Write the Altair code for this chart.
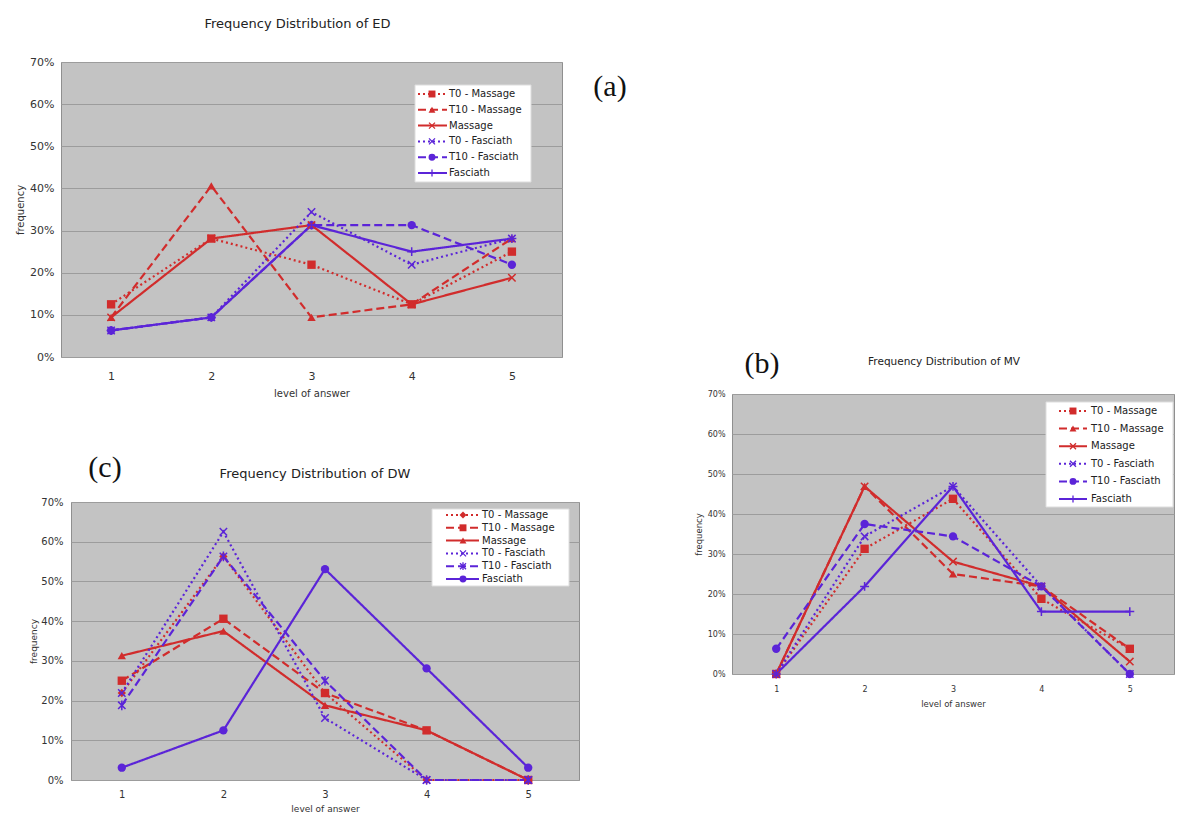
import altair as alt
import pandas as pd

# ---------------- data (percent) ----------------
levels = [1, 2, 3, 4, 5]
series_names = ["T0 - Massage", "T10 - Massage", "Massage",
                "T0 - Fasciath", "T10 - Fasciath", "Fasciath"]
y_ticks = [0, 0.1, 0.2, 0.3, 0.4, 0.5, 0.6, 0.7]

# (a) Frequency Distribution of ED
ed_t0_massage = [12.5, 28.1, 21.9, 12.5, 25.0]
ed_t10_massage = [9.4, 40.6, 9.4, 12.5, 28.1]
ed_massage = [9.4, 28.1, 31.3, 12.5, 18.8]
ed_t0_fasciath = [6.3, 9.4, 34.4, 21.9, 28.1]
ed_t10_fasciath = [6.3, 9.4, 31.3, 31.3, 21.9]
ed_fasciath = [6.3, 9.4, 31.3, 25.0, 28.1]

# (b) Frequency Distribution of MV
mv_t0_massage = [0.0, 31.3, 43.8, 18.8, 6.3]
mv_t10_massage = [0.0, 46.9, 25.0, 21.9, 6.3]
mv_massage = [0.0, 46.9, 28.1, 21.9, 3.1]
mv_t0_fasciath = [0.0, 34.4, 46.9, 21.9, 0.0]
mv_t10_fasciath = [6.3, 37.5, 34.4, 21.9, 0.0]
mv_fasciath = [0.0, 21.9, 46.9, 15.6, 15.6]

# (c) Frequency Distribution of DW
dw_t0_massage = [21.9, 56.3, 21.9, 0.0, 0.0]
dw_t10_massage = [25.0, 40.6, 21.9, 12.5, 0.0]
dw_massage = [31.3, 37.5, 18.8, 12.5, 0.0]
dw_t0_fasciath = [21.9, 62.5, 15.6, 0.0, 0.0]
dw_t10_fasciath = [18.8, 56.3, 25.0, 0.0, 0.0]
dw_fasciath = [3.1, 12.5, 53.1, 28.1, 3.1]

# ---------------- styles ----------------
FONT = "DejaVu Sans"
RED = "#d12c2c"
PURPLE = "#5b24d8"
BG = "#c3c3c3"
GRID = "#9c9c9c"
BORDER = "#8f8f8f"
TXT = "#333333"

X_PATH = "M-1,-1L1,1M-1,1L1,-1"
PLUS_PATH = "M0,-1.2L0,1.2M-1.2,0L1.2,0"
STAR_PATH = "M-1,-1L1,1M-1,1L1,-1M0,-1.3L0,1.3"

colors = [RED, RED, RED, PURPLE, PURPLE, PURPLE]
dashes = [[2, 3], [8, 4], [1, 0], [2, 3], [8, 4], [1, 0]]

shapes_ab = ["square", "triangle-up", X_PATH, X_PATH, "circle", PLUS_PATH]
filled_ab = ["T0 - Massage", "T10 - Massage", "T10 - Fasciath"]
shapes_c = ["diamond", "square", "triangle-up", X_PATH, STAR_PATH, "circle"]
filled_c = ["T0 - Massage", "T10 - Massage", "Massage", "Fasciath"]


def make_df(lists):
    rows = []
    for name, vals in zip(series_names, lists):
        for lv, v in zip(levels, vals):
            rows.append({"series": name, "level": lv, "value": v / 100.0})
    return pd.DataFrame(rows)


def panel(lists, shapes, filled, width, height, title, tsize, tdx, toffset,
          lab_size, ttl_size, xlab_pad, xttl_pad, ylab_pad, yttl_pad,
          box, row_y0, row_dy, line_x, mark_x, text_x, tag=None):
    df = make_df(lists)
    color_enc = alt.Color("series:N", scale=alt.Scale(domain=series_names, range=colors), legend=None)
    dash_enc = alt.StrokeDash("series:N", scale=alt.Scale(domain=series_names, range=dashes), legend=None)
    shape_enc = alt.Shape("series:N", scale=alt.Scale(domain=series_names, range=shapes), legend=None)
    open_names = [n for n in series_names if n not in filled]

    xs = alt.Scale(domain=[0.5, 5.5])
    x_enc = alt.X("level:Q", scale=xs,
                  axis=alt.Axis(values=levels, format="d", title="level of answer",
                                ticks=False, tickSize=0, domain=False, grid=False,
                                labelFontSize=lab_size, titleFontSize=ttl_size,
                                labelFont=FONT, titleFont=FONT, labelColor=TXT, titleColor=TXT,
                                titleFontWeight="normal", labelPadding=xlab_pad,
                                titlePadding=xttl_pad))
    y_enc = alt.Y("value:Q", scale=alt.Scale(domain=[0, 0.7]),
                  axis=alt.Axis(values=y_ticks, format=".0%", title="frequency",
                                ticks=False, tickSize=0, domain=False, grid=True,
                                gridColor=GRID, gridWidth=1,
                                labelFontSize=lab_size, titleFontSize=ttl_size,
                                labelFont=FONT, titleFont=FONT, labelColor=TXT, titleColor=TXT,
                                titleFontWeight="normal", labelPadding=ylab_pad,
                                titlePadding=yttl_pad))

    base = alt.Chart(df)
    lines = base.mark_line(strokeWidth=2.2).encode(x=x_enc, y=y_enc, color=color_enc,
                                                    strokeDash=dash_enc)
    pts_f = base.transform_filter(alt.FieldOneOfPredicate(field="series", oneOf=filled)).mark_point(
        filled=True, opacity=1, size=70).encode(x=x_enc, y=y_enc, color=color_enc, shape=shape_enc)
    pts_o = base.transform_filter(alt.FieldOneOfPredicate(field="series", oneOf=open_names)).mark_point(
        filled=False, opacity=1, size=55, strokeWidth=1.5).encode(x=x_enc, y=y_enc, color=color_enc,
                                                                  shape=shape_enc)

    # legend box
    one = pd.DataFrame({"k": [0]})
    rect = alt.Chart(one).mark_rect(fill="white", stroke="#dddddd", strokeWidth=1).encode(
        x=alt.value(box[0]), x2=alt.value(box[1]), y=alt.value(box[2]), y2=alt.value(box[3]))
    leg_df = pd.DataFrame({"series": series_names, "row": list(range(len(series_names)))})
    lb = alt.Chart(leg_df).transform_calculate(py=f"{row_y0} + datum.row * {row_dy}")
    ly = alt.Y("py:Q", scale=None, axis=None)
    leg_lines = lb.mark_rule(strokeWidth=2).encode(x=alt.value(line_x[0]), x2=alt.value(line_x[1]),
                                                   y=ly, color=color_enc, strokeDash=dash_enc)
    leg_pf = lb.transform_filter(alt.FieldOneOfPredicate(field="series", oneOf=filled)).mark_point(
        filled=True, opacity=1, size=48).encode(x=alt.value(mark_x), y=ly, color=color_enc, shape=shape_enc)
    leg_po = lb.transform_filter(alt.FieldOneOfPredicate(field="series", oneOf=open_names)).mark_point(
        filled=False, opacity=1, size=36, strokeWidth=1.3).encode(x=alt.value(mark_x), y=ly,
                                                                  color=color_enc, shape=shape_enc)
    leg_txt = lb.mark_text(align="left", baseline="middle", fontSize=10, font=FONT, color="#222222").encode(
        x=alt.value(text_x), y=ly, text="series:N")

    layers = [lines, pts_f, pts_o, rect, leg_lines, leg_pf, leg_po, leg_txt]
    if tag is not None:
        layers.append(tag_chart(*tag))

    return alt.layer(*layers).properties(
        width=width, height=height,
        title=alt.TitleParams(text=title, fontSize=tsize, font=FONT, fontWeight="normal",
                              color="#222222", offset=toffset, dx=tdx),
        view=alt.ViewBackground(fill=BG, stroke=BORDER, strokeWidth=1))


def tag_chart(text, x, y):
    return alt.Chart(pd.DataFrame({"t": [text]})).mark_text(
        font="Liberation Serif", fontSize=30, align="center", baseline="middle", color="#111111").encode(
        text="t:N", x=alt.value(x), y=alt.value(y))


def spacer(w, h, tag=None):
    s = alt.Chart(pd.DataFrame({"k": [0]})).mark_point(opacity=0).encode(
        x=alt.value(0), y=alt.value(0))
    if tag is not None:
        s = alt.layer(s, tag_chart(*tag))
    return s.properties(width=w, height=h)


chart_a = panel([ed_t0_massage, ed_t10_massage, ed_massage, ed_t0_fasciath, ed_t10_fasciath, ed_fasciath],
                shapes_ab, filled_ab, 501, 295, "Frequency Distribution of ED", 13, -14, 25,
                11, 10, 13, 7, 7, 4,
                (354, 470, 23, 120), 32, 15.8, (357, 386), 371, 388, tag=("(a)", 549, 25))

chart_b = panel([mv_t0_massage, mv_t10_massage, mv_massage, mv_t0_fasciath, mv_t10_fasciath, mv_fasciath],
                shapes_ab, filled_ab, 442, 280, "Frequency Distribution of MV", 10.5, -9, 23,
                8, 8.5, 11, 6, 7, 4,
                (314, 441, 8, 113), 17, 17.6, (327, 355), 341, 359)

chart_c = panel([dw_t0_massage, dw_t10_massage, dw_massage, dw_t0_fasciath, dw_t10_fasciath, dw_fasciath],
                shapes_c, filled_c, 508, 278, "Frequency Distribution of DW", 13, -10, 16,
                10, 9, 9, 5, 8, 2,
                (361, 498, 7, 84), 13, 12.8, (375, 408), 392, 411)

row_c = alt.hconcat(spacer(1, 1, tag=("(c)", 44, -34)), chart_c, spacing=9,
                    bounds="flush").resolve_scale(shape="independent")
left = alt.vconcat(chart_a, row_c, spacing=145, bounds="flush").resolve_scale(shape="independent")
right = alt.vconcat(spacer(1, 322, tag=("(b)", 30, 302)), chart_b, spacing=10,
                    bounds="flush").resolve_scale(shape="independent")

chart = alt.hconcat(left, right, spacing=671, bounds="flush").resolve_scale(
    shape="independent"
).properties(
    padding={"left": 7, "top": 9, "right": 5, "bottom": 5}
).configure_view(strokeWidth=0)

chart.save("out.html", embed_options={"renderer": "svg", "actions": False})
